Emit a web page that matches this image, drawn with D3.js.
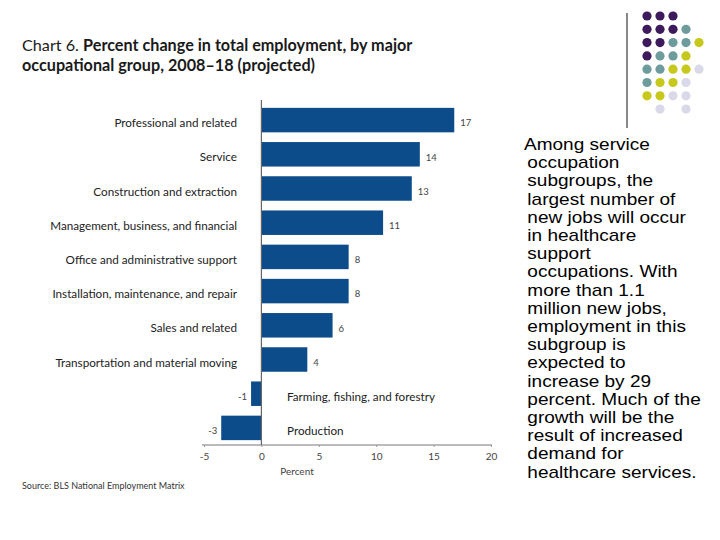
<!DOCTYPE html>
<html><head><meta charset="utf-8">
<script src="https://cdn.jsdelivr.net/npm/d3@7"></script>
<style>body{margin:0;background:#fff}svg{display:block}</style>
</head><body>
<svg id="c" width="720" height="540"></svg>
<script>
const categories = ["Professional and related","Service","Construction and extraction","Management, business, and financial","Office and administrative support","Installation, maintenance, and repair","Sales and related","Transportation and material moving","Farming, fishing, and forestry","Production"];
const values = [16.8, 13.8, 13.1, 10.6, 7.6, 7.6, 6.2, 4.0, -0.9, -3.5];
const valueLabels = ["17","14","13","11","8","8","6","4","-1","-3"];
const xTicks = [-5, 0, 5, 10, 15, 20];
const bodyLines = ["Among service","occupation","subgroups, the","largest number of","new jobs will occur","in healthcare","support","occupations. With","more than 1.1","million new jobs,","employment in this","subgroup is","expected to","increase by 29","percent. Much of the","growth will be the","result of increased","demand for","healthcare services."];
const dotRows = [
  ["P","P","P"],
  ["P","P","P","T"],
  ["P","P","T","T","Y"],
  ["P","T","T","Y"],
  ["T","T","Y","Y","L"],
  ["T","Y","Y","L"],
  ["Y","Y","L","L"],
  ["","L","","L"]
];
const dotColors = {P:"#3d1a5c", T:"#6e9c9c", Y:"#c6c81c", L:"#d9d9ea"};

const svg = d3.select("#c");
const font = "Lato, 'Open Sans', sans-serif";

// Title
const t = svg.append("text").attr("x",22).attr("y",51).attr("font-family",font).attr("font-size",16.2).attr("fill","#1a1a1a");
t.append("tspan").text("Chart 6. ");
t.append("tspan").attr("font-weight","bold").text("Percent change in total employment, by major");
svg.append("text").attr("x",22).attr("y",71).attr("font-family",font).attr("font-size",16.2).attr("font-weight","bold").attr("fill","#1a1a1a").text("occupational group, 2008\u201318 (projected)");

const x = d3.scaleLinear().domain([-5,20]).range([204,491]);
const y = d3.scaleBand().domain(categories).range([103,445]).paddingInner(0.284).paddingOuter(0.142);

// bars
svg.selectAll("rect.bar").data(categories).join("rect")
  .attr("class","bar")
  .attr("x",(d,i)=>x(Math.min(0,values[i])))
  .attr("width",(d,i)=>Math.abs(x(values[i])-x(0)))
  .attr("y",d=>y(d)).attr("height",y.bandwidth())
  .attr("fill","#0c4c8a");

// axes
const xAxis = d3.axisBottom(x).tickValues(xTicks).tickSize(2).tickPadding(6).tickFormat(d=>String(d));
const gx = svg.append("g").attr("transform","translate(0,445)").call(xAxis);
gx.select(".domain").attr("stroke","#777").attr("d","M202,0H492");
gx.selectAll(".tick line").attr("stroke","#999");
gx.selectAll("text").attr("font-family",font).attr("font-size",10).attr("fill","#444");

svg.append("line").attr("x1",x(0)).attr("x2",x(0)).attr("y1",100).attr("y2",445).attr("stroke","#666").attr("stroke-width",1.2);

svg.append("text").attr("x",297).attr("y",475).attr("text-anchor","middle").attr("font-family",font).attr("font-size",10).attr("fill","#444").text("Percent");

// category labels
svg.selectAll("text.cat").data(categories).join("text")
  .attr("class","cat")
  .attr("x",(d,i)=>values[i]<0 ? 287 : 237)
  .attr("text-anchor",(d,i)=>values[i]<0 ? "start" : "end")
  .attr("y",d=>y(d)+y.bandwidth()/2+3).attr("dy","0.35em")
  .attr("font-family",font).attr("font-size",11.7).attr("fill","#222")
  .text(d=>d);

// value labels
svg.selectAll("text.val").data(categories).join("text")
  .attr("class","val")
  .attr("x",(d,i)=>values[i]<0 ? x(values[i])-4 : x(values[i])+6)
  .attr("text-anchor",(d,i)=>values[i]<0 ? "end" : "start")
  .attr("y",d=>y(d)+y.bandwidth()/2+3).attr("dy","0.35em")
  .attr("font-family",font).attr("font-size",9.5).attr("fill","#444")
  .text((d,i)=>valueLabels[i]);

svg.append("text").attr("x",22).attr("y",489).attr("font-family",font).attr("font-size",9).attr("fill","#333").text("Source: BLS National Employment Matrix");

// body text (horizontally stretched like the reference)
const bt = svg.append("text").attr("transform","translate(524,0) scale(1.12,1)")
  .attr("font-family","'Liberation Sans', Arial, sans-serif").attr("font-size",17).attr("fill","#000");
bodyLines.forEach((l,i)=>{
  bt.append("tspan").attr("x", i===0 ? 0 : 3).attr("y",150+i*18.2).text(l);
});

// decoration
svg.append("line").attr("x1",627).attr("x2",627).attr("y1",13).attr("y2",128).attr("stroke","#888").attr("stroke-width",2);
const colX = [647,660,673,686,699];
dotRows.forEach((row,r)=>{
  row.forEach((c,k)=>{
    if(!c) return;
    svg.append("circle").attr("cx",colX[k]).attr("cy",16+r*13.3).attr("r",4.6).attr("fill",dotColors[c]);
  });
});
</script>
</body></html>
